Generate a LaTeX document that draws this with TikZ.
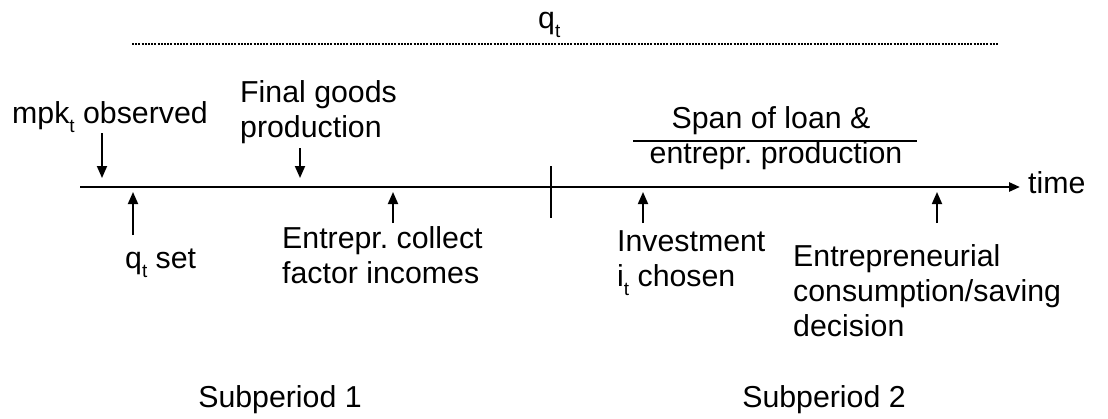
\documentclass[tikz,border=0pt]{standalone}
\usepackage{fontspec}
\setmainfont{Liberation Sans}
\usetikzlibrary{arrows.meta}
\frenchspacing
\newcommand*{\subt}{\raisebox{-0.3em}{\fontsize{19}{19}\selectfont t}}

\tikzset{
  lbl/.style={anchor=base west, inner sep=0pt, align=left,
    font=\fontsize{30.3}{35}\selectfont},
  clbl/.style={lbl, anchor=base, align=center},
  evarrow/.style={-{Triangle[length=12pt,width=10pt]}, line width=1.8pt},
  timeaxis/.style={-{Triangle[length=11pt,width=9pt]}, line width=2.6pt},
}

\begin{document}
\begin{tikzpicture}[x=1pt, y=-1pt]
\useasboundingbox (0,0) rectangle (1108,418);

% price of capital over the whole period
\node[lbl] (qt) at (538,28) {q\subt};
\coordinate (qa) at (132,44);
\coordinate (qb) at (998,44);
\draw[line width=2pt, dash pattern=on 2pt off 1.2pt] (qa) -- (qb);

% time axis
\coordinate (t0) at (80,187);
\coordinate (t1) at (1020,187);
\node[lbl] (time) at (1028,193) {time};
\draw[timeaxis] (t0) -- (t1);

% split between subperiods
\coordinate (sa) at (551,166);
\coordinate (sb) at (551,218);
\draw[line width=1.2pt] (sa) -- (sb);

% events above the axis (multi-line labels sit on their last line)
\node[lbl] (mpk) at (12,123) {mpk\subt{} observed};
\coordinate (mpka) at (102,133);
\coordinate (mpkb) at (102,178);
\draw[evarrow] (mpka) -- (mpkb);

\node[lbl] (fgp) at (240,137) {Final goods\\production};
\coordinate (fgpa) at (300,148);
\coordinate (fgpb) at (300,178);
\draw[evarrow] (fgpa) -- (fgpb);

\node[clbl] (spana) at (771,128) {Span of loan \&};
\node[clbl] (spanb) at (776,163) {entrepr. production};
\coordinate (la) at (633,141);
\coordinate (lb) at (917,141);
\draw[line width=1.3pt] (la) -- (lb);

% events below the axis
\node[lbl] (qset) at (125,268) {q\subt{} set};
\coordinate (qseta) at (133,235);
\coordinate (qsetb) at (133,192);
\draw[evarrow] (qseta) -- (qsetb);

\node[lbl] (coll) at (282,283) {Entrepr. collect\\factor incomes};
\coordinate (colla) at (393,223);
\coordinate (collb) at (393,192);
\draw[evarrow] (colla) -- (collb);

\node[lbl] (inv) at (617,286) {Investment\\i\subt{} chosen};
\coordinate (inva) at (643,223);
\coordinate (invb) at (643,192);
\draw[evarrow] (inva) -- (invb);

\node[lbl] (cons) at (793,336) {Entrepreneurial\\consumption/saving\\decision};
\coordinate (consa) at (937,223);
\coordinate (consb) at (937,192);
\draw[evarrow] (consa) -- (consb);

% subperiods
\node[clbl] (sub1) at (280,407) {Subperiod 1};
\node[clbl] (sub2) at (824,407) {Subperiod 2};

\end{tikzpicture}
\end{document}
